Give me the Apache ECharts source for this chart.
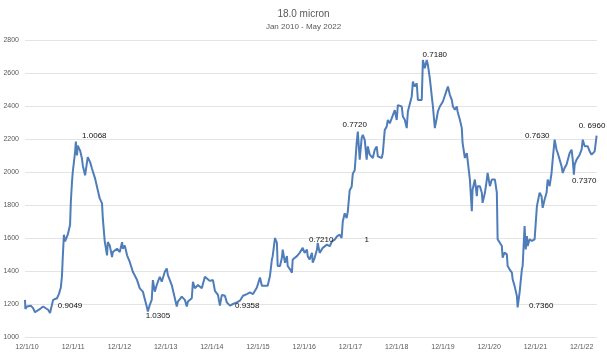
<!DOCTYPE html>
<html>
<head>
<meta charset="utf-8">
<script src="https://cdn.jsdelivr.net/npm/echarts@6/dist/echarts.min.js"></script>
<style>html,body{margin:0;padding:0;background:#fff}#c{width:607px;height:355px}</style>
</head>
<body>
<div id="c"></div>
<script>
// Months since 1 Dec 2010
const months = [-0.5,-0.4,0,0.5,1.0,1.6,2.1,2.6,3.4,4.2,4.7,5.5,6.0,6.5,6.8,7.3,7.8,8.3,8.8,9.1,9.3,9.6,9.9,10.4,10.6,11.2,11.4,11.7,11.9,12.2,12.5,12.7,13.0,13.2,13.8,14.3,14.5,15.1,15.6,15.8,16.4,16.9,17.7,18.4,18.9,19.5,19.7,20.2,20.8,21.0,21.5,22.1,22.3,23.4,24.1,24.7,24.9,25.4,26.0,26.7,27.5,28.6,29.3,30.1,31.1,31.4,31.9,32.4,32.7,33.2,33.7,34.0,34.5,35.0,35.8,36.3,36.6,37.6,38.4,38.9,39.2,40.2,41.0,41.5,41.8,42.8,43.1,43.6,44.4,45.4,46.2,46.7,47.5,48.3,48.8,49.6,50.1,50.6,51.4,51.9,52.7,53.5,54.5,55.3,56.1,57.1,57.9,58.7,59.7,60.5,61.0,61.8,62.5,63.1,63.6,63.8,64.4,64.9,65.1,65.7,66.2,66.4,67.0,67.5,67.7,68.3,68.8,69.0,70.1,70.8,71.6,72.1,72.7,72.9,73.4,74.0,74.2,74.7,75.3,75.5,76.0,76.8,77.3,77.9,78.6,79.2,79.4,79.9,80.5,80.7,81.2,81.7,82.0,82.5,83.0,83.3,83.8,84.3,84.6,85.1,85.6,85.9,86.4,86.9,87.2,87.7,88.2,88.5,89.0,89.5,89.8,90.3,90.8,91.1,92.1,92.4,92.9,93.4,93.7,94.2,94.7,95.5,96.0,96.3,96.8,97.3,97.6,98.1,98.6,98.9,99.4,99.9,100.2,100.7,101.2,101.5,102.5,102.8,103.3,103.8,104.1,104.6,105.1,105.4,105.9,106.4,106.7,107.2,108.0,109.0,109.3,109.8,110.3,110.6,111.1,111.6,111.8,112.4,112.9,113.1,113.7,114.2,114.4,115.0,115.5,115.7,116.3,116.8,117.0,117.6,118.1,118.3,118.9,119.4,119.6,120.2,120.7,120.9,121.5,122.0,122.2,122.7,123.3,123.5,124.0,124.6,124.8,125.3,125.9,126.1,126.6,127.2,127.4,127.9,128.5,128.7,129.2,129.5,129.8,130.0,130.5,131.1,131.3,131.8,132.4,132.6,133.1,133.6,133.9,134.4,134.9,135.2,135.7,136.2,136.5,137.0,137.5,137.8,138.3,138.8,139.1,139.6,140.1,140.4,140.9,141.4,141.7,142.0,142.2,142.7,143.0,143.5,144.0,144.3,144.8,145.3,145.6,146.1,146.6,146.9,147.4,147.9];
const prices = [1225,1170,1185,1180,1190,1175,1150,1155,1170,1185,1175,1165,1145,1140,1225,1220,1235,1260,1300,1370,1480,1620,1580,1590,1620,1680,1820,1940,2000,2060,2120,2185,2100,2160,2130,2080,2040,1980,2060,2090,2060,2020,1960,1890,1840,1810,1720,1580,1495,1575,1555,1485,1515,1535,1515,1575,1535,1555,1495,1455,1395,1345,1295,1275,1185,1155,1195,1225,1345,1275,1315,1335,1365,1335,1395,1415,1375,1315,1235,1185,1215,1245,1225,1185,1215,1235,1335,1295,1315,1295,1365,1355,1340,1345,1280,1255,1190,1255,1250,1210,1190,1200,1210,1220,1250,1260,1270,1260,1300,1360,1310,1310,1310,1370,1470,1490,1600,1570,1430,1430,1480,1530,1450,1490,1430,1410,1390,1470,1490,1510,1540,1510,1530,1490,1470,1510,1450,1480,1530,1570,1510,1540,1530,1560,1550,1580,1570,1590,1610,1612,1620,1600,1700,1750,1720,1760,1890,1910,1990,2010,2175,2245,2075,2205,2225,2195,2075,2155,2105,2115,2085,2135,2155,2095,2085,2115,2255,2275,2315,2295,2325,2375,2315,2405,2407,2397,2337,2317,2266,2367,2357,2458,2548,2518,2538,2437,2437,2679,2629,2679,2649,2568,2578,2397,2266,2327,2367,2397,2427,2498,2518,2468,2437,2397,2377,2397,2367,2317,2266,2176,2085,2115,2105,1954,1763,1894,1954,1853,1914,1914,1874,1813,1874,1954,1994,1914,1954,1964,1954,1874,1592,1592,1551,1481,1511,1501,1430,1410,1390,1350,1310,1249,1179,1269,1410,1430,1672,1531,1612,1551,1592,1582,1582,1592,1793,1803,1874,1853,1783,1833,1874,1954,1914,1994,2075,2196,2135,2115,2075,2035,1994,2025,2045,2055,2115,2135,2075,1984,2045,2075,2085,2105,2135,2196,2156,2166,2156,2125,2105,2115,2125,2220];
const tickLabels = ['12/1/10','12/1/11','12/1/12','12/1/13','12/1/14','12/1/15','12/1/16','12/1/17','12/1/18','12/1/19','12/1/20','12/1/21','12/1/22'];
const tickMonths = [0,12,24,36,48,60,72,84,96,108,120,132,144];
const annText = ['0.9049','1.0068','1.0305','0.9358','0.7210','1','0.7720','0.7180','0.7630','0. 6960','0.7370','0.7360'];
const annMonth = [11.2,17.5,34.0,57.2,76.4,88.2,85.1,105.9,132.5,146.7,144.7,133.5];
const annValue = [1187,2220,1126,1187,1592,1592,2286,2709,2220,2280,1948,1187];

const chart = echarts.init(document.getElementById('c'));
const font = 'Liberation Sans, Arial, sans-serif';
chart.setOption({
  animation: false,
  title: {
    text: '18.0 micron',
    subtext: 'Jan 2010 - May 2022',
    left: 'center', top: 4, itemGap: 4,
    textStyle: {fontSize: 10, fontWeight: 'normal', color: '#595959', fontFamily: font},
    subtextStyle: {fontSize: 8, color: '#595959', fontFamily: font}
  },
  grid: {left: 25, right: 10, top: 40, bottom: 18},
  xAxis: {
    type: 'value', min: -0.5, max: 148,
    splitLine: {show: false},
    axisLine: {show: false},
    axisTick: {show: false},
    axisLabel: {
      customValues: tickMonths,
      formatter: v => tickLabels[tickMonths.indexOf(v)] || '',
      fontSize: 7, color: '#595959', fontFamily: font, margin: 7
    }
  },
  yAxis: {
    type: 'value', min: 1000, max: 2800, interval: 200,
    axisLine: {show: false}, axisTick: {show: false},
    splitLine: {lineStyle: {color: '#e4e4e4', width: 1}},
    axisLabel: {fontSize: 7, color: '#595959', fontFamily: font, margin: 6,
                formatter: v => String(v)}
  },
  series: [{
    type: 'line',
    data: months.map((m, i) => [m, prices[i]]),
    showSymbol: false,
    lineStyle: {color: '#4f7dba', width: 2},
    itemStyle: {color: '#4f7dba'},
    markPoint: {
      symbol: 'circle', symbolSize: 0,
      label: {show: true, position: 'inside', fontSize: 8, color: '#111', fontFamily: font,
              formatter: p => p.name},
      data: annText.map((t, i) => ({name: t, coord: [annMonth[i], annValue[i]]}))
    }
  }]
});
</script>
</body>
</html>
